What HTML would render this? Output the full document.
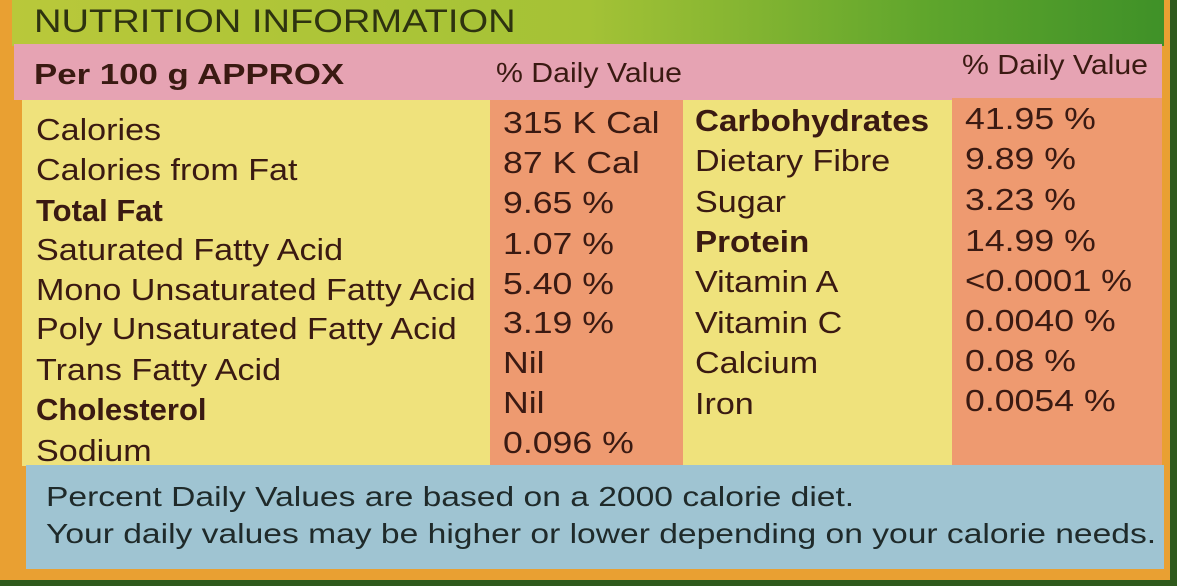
<!DOCTYPE html>
<html><head><meta charset="utf-8"><style>
body{margin:0;width:1177px;height:586px;overflow:hidden;background:#2f5a1c;position:relative;font-family:"Liberation Sans",sans-serif;color:#3a1a12}
div{position:absolute}
.t{font-size:31px;line-height:34px;white-space:nowrap;transform-origin:0 0;transform:scaleX(1.1)}
.v{transform:scaleX(1.15)}
.b{font-weight:bold;transform:scaleX(1.0)}
</style></head><body>
<div style="left:0;top:0;width:1170px;height:580px;background:#e9a032"></div>
<div style="left:12px;top:0;width:1152px;height:46px;background:linear-gradient(90deg,#b9c83a 0%,#a4c236 50%,#5ea52c 80%,#3f9128 100%)"></div>
<div style="left:14px;top:44px;width:1148px;height:56px;background:#e6a3b3"></div>
<div style="left:22px;top:100px;width:1140px;height:366px;background:#efe27c"></div>
<div style="left:490px;top:100px;width:193px;height:366px;background:#ee9a70"></div>
<div style="left:952px;top:98px;width:210px;height:368px;background:#ee9a70"></div>
<div style="left:26px;top:465px;width:1138px;height:104px;background:#9fc4d2"></div>

<div class="t" style="left:34px;top:4px;font-size:32px;color:#2e3310;transform:scaleX(1.19)">NUTRITION INFORMATION</div>
<div class="t" style="left:34px;top:58px;font-size:29px;font-weight:bold;transform:scaleX(1.2)">Per 100 g APPROX</div>
<div class="t" style="left:496px;top:56px;font-size:28px;transform:scaleX(1.08)">% Daily Value</div>
<div class="t" style="left:962px;top:48px;font-size:28px;transform:scaleX(1.08)">% Daily Value</div>

<div class="t" style="left:36px;top:113px">Calories</div>
<div class="t" style="left:36px;top:153px">Calories from Fat</div>
<div class="t b" style="left:36px;top:194px">Total Fat</div>
<div class="t" style="left:36px;top:233px">Saturated Fatty Acid</div>
<div class="t" style="left:36px;top:273px">Mono Unsaturated Fatty Acid</div>
<div class="t" style="left:36px;top:312px">Poly Unsaturated Fatty Acid</div>
<div class="t" style="left:36px;top:353px">Trans Fatty Acid</div>
<div class="t b" style="left:36px;top:393px">Cholesterol</div>
<div class="t" style="left:36px;top:434px">Sodium</div>

<div class="t v" style="left:503px;top:106px">315 K Cal</div>
<div class="t v" style="left:503px;top:146px">87 K Cal</div>
<div class="t v" style="left:503px;top:186px">9.65 %</div>
<div class="t v" style="left:503px;top:227px">1.07 %</div>
<div class="t v" style="left:503px;top:267px">5.40 %</div>
<div class="t v" style="left:503px;top:306px">3.19 %</div>
<div class="t v" style="left:503px;top:346px">Nil</div>
<div class="t v" style="left:503px;top:386px">Nil</div>
<div class="t v" style="left:503px;top:426px">0.096 %</div>

<div class="t b" style="left:695px;top:104px;transform:scaleX(1.07)">Carbohydrates</div>
<div class="t" style="left:695px;top:144px">Dietary Fibre</div>
<div class="t" style="left:695px;top:185px">Sugar</div>
<div class="t b" style="left:695px;top:225px;transform:scaleX(1.07)">Protein</div>
<div class="t" style="left:695px;top:265px">Vitamin A</div>
<div class="t" style="left:695px;top:306px">Vitamin C</div>
<div class="t" style="left:695px;top:346px">Calcium</div>
<div class="t" style="left:695px;top:387px">Iron</div>

<div class="t v" style="left:965px;top:102px">41.95 %</div>
<div class="t v" style="left:965px;top:142px">9.89 %</div>
<div class="t v" style="left:965px;top:183px">3.23 %</div>
<div class="t v" style="left:965px;top:224px">14.99 %</div>
<div class="t" style="left:965px;top:264px;transform:scaleX(1.12)">&lt;0.0001 %</div>
<div class="t v" style="left:965px;top:304px">0.0040 %</div>
<div class="t v" style="left:965px;top:344px">0.08 %</div>
<div class="t v" style="left:965px;top:384px">0.0054 %</div>

<div class="t" style="left:46px;top:480px;font-size:28px;color:#1f2a2a;transform:scaleX(1.2)">Percent Daily Values are based on a 2000 calorie diet.</div>
<div class="t" style="left:46px;top:517px;font-size:28px;color:#1f2a2a;transform:scaleX(1.2)">Your daily values may be higher or lower depending on your calorie needs.</div>
</body></html>
